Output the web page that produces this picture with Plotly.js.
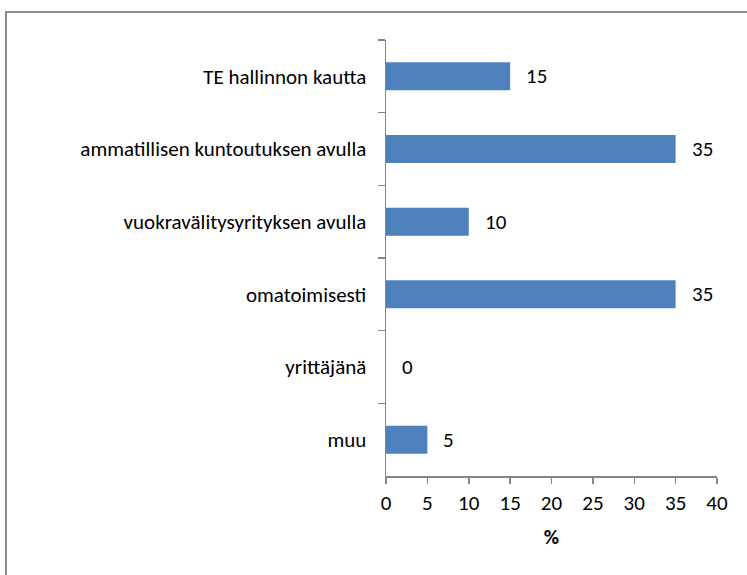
<!DOCTYPE html>
<html><head><meta charset="utf-8">
<script src="https://cdn.plot.ly/plotly-3.0.1.min.js"></script>
<style>
html,body{margin:0;padding:0;background:#fff;overflow:hidden}
#chart{position:absolute;left:0;top:0;width:747px;height:575px}
#frame{position:absolute;left:5px;top:11px;width:800px;height:700px;border:2px solid #8a8a8a;box-sizing:border-box;pointer-events:none}
</style></head>
<body>
<div id="chart"></div>
<div id="frame"></div>
<script>
var categories = ["TE hallinnon kautta","ammatillisen kuntoutuksen avulla","vuokravälitysyrityksen avulla","omatoimisesti","yrittäjänä","muu"];
var values = [15,35,10,35,0,5];
var xTicks = [0,5,10,15,20,25,30,35,40];
var xTitle = "%";

var font = "Carlito, Calibri, Lato, 'Open Sans', 'Liberation Sans', sans-serif";
var fs = 21;
var trace = {
  type:"bar", orientation:"h", x:values, y:categories,
  marker:{color:"#4F81BD", line:{width:0}},
  hoverinfo:"none"
};
var annotations = categories.map(function(c,i){
  return {x:values[i], y:c, xref:"x", yref:"y", text:String(values[i]), showarrow:false,
    xanchor:"left", xshift:14, font:{family:font,size:fs,color:"#000"}};
});
var layout = {
  width:747, height:575,
  margin:{l:386, r:30, t:40, b:99},
  paper_bgcolor:"rgba(0,0,0,0)", plot_bgcolor:"rgba(0,0,0,0)",
  showlegend:false, bargap:0.615,
  font:{family:font, size:fs, color:"#000"},
  xaxis:{range:[0,40], tickvals:xTicks, ticktext:xTicks.map(String), showgrid:false, zeroline:false,
    showline:true, linecolor:"#868686", linewidth:1.5, ticks:"outside", ticklen:6, tickcolor:"#868686", tickwidth:1.5,
    tickfont:{family:font,size:fs}, ticklabelstandoff:1,
    title:{text:"<b>"+xTitle+"</b>", font:{family:font,size:fs}, standoff:14}},
  yaxis:{type:"category", autorange:false, range:[5.5,-0.5], categoryorder:"array", categoryarray:categories,
    showgrid:false, zeroline:false, showline:true, linecolor:"#868686", linewidth:1.5,
    ticks:"outside", tickson:"boundaries", ticklen:7, tickcolor:"#868686", tickwidth:1.5,
    tickfont:{family:font,size:fs}, ticklabelstandoff:14},
  annotations:annotations
};
Plotly.newPlot("chart",[trace],layout,{staticPlot:true});
</script>
</body></html>
